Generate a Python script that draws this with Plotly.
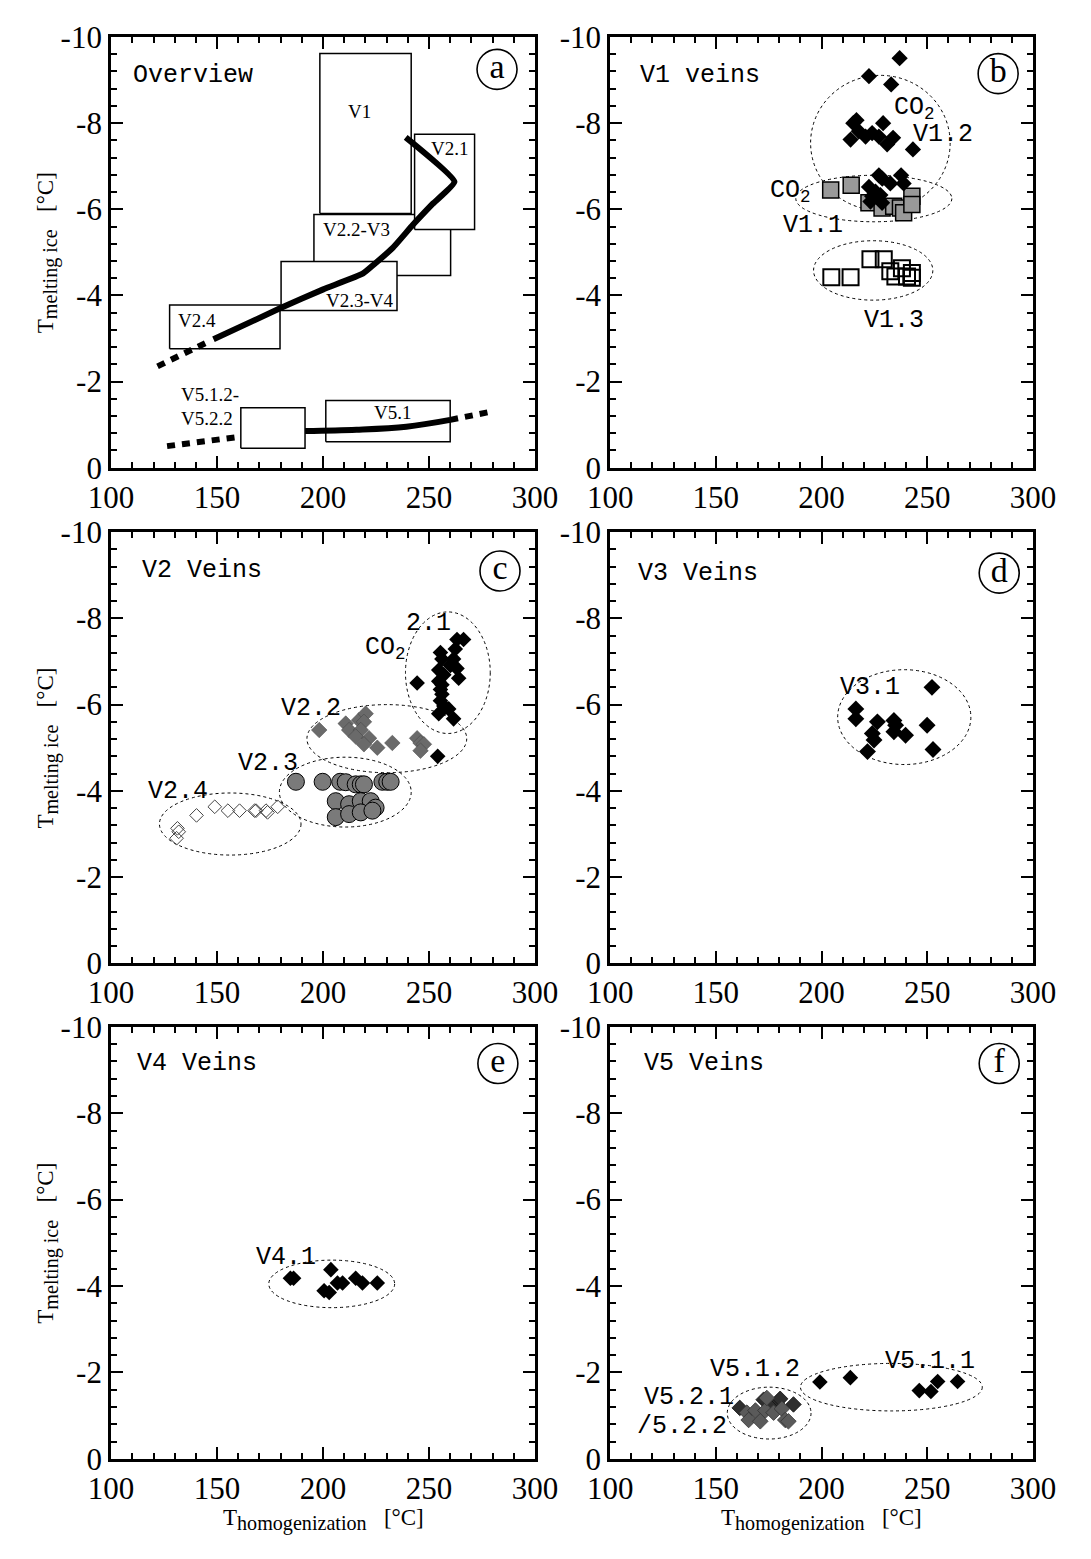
import plotly.graph_objects as go

# ---------------- data ----------------
# Panel a: overview boxes (Th range, Tm range)
box_names = ["V2.2-V3", "V1", "V2.1", "V2.3-V4", "V2.4", "V5.1", "V5.1.2-V5.2.2"]
box_x0 = [195.7, 198.5, 243.2, 180.2, 127.6, 201.3, 161.2]
box_x1 = [260.2, 241.6, 271.5, 234.9, 179.7, 260.0, 191.5]
box_y0 = [-4.46, -5.90, -5.53, -3.65, -2.76, -0.60, -0.45]
box_y1 = [-5.88, -9.62, -7.74, -4.79, -3.78, -1.56, -1.39]
box_label_text = ["V2.2-V3", "V1", "V2.1", "V2.3-V4", "V2.4", "V5.1", "V5.1.2-", "V5.2.2"]
box_label_x = [215.8, 217.3, 259.7, 217.3, 140.5, 233.0, 131.8, 131.8]
box_label_y = [-5.53, -8.27, -7.40, -3.87, -3.42, -1.28, -1.69, -1.13]

trend_up_x = [239.0, 262.0, 251.8, 242.4, 233.0, 223.6, 218.9, 200.1, 179.7, 148.3]
trend_up_y = [-7.67, -6.64, -6.13, -5.64, -5.11, -4.70, -4.51, -4.14, -3.70, -2.98]
trend_up_ext_x = [144.4, 120.1]
trend_up_ext_y = [-2.89, -2.31]
trend_low_ext1_x = [126.4, 161.2]
trend_low_ext1_y = [-0.50, -0.72]
trend_low_x = [191.5, 215.8, 239.3, 260.0]
trend_low_y = [-0.85, -0.88, -0.95, -1.11]
trend_low_ext2_x = [260.0, 279.3]
trend_low_ext2_y = [-1.11, -1.30]

# Panel b: V1 veins
v11_x = [204.3, 214.0, 222.4, 228.6, 234.1, 237.3, 238.8, 242.7, 242.7]
v11_y = [-6.45, -6.56, -6.15, -6.03, -6.07, -6.03, -5.92, -6.30, -6.11]
v12_x = [236.9, 222.4, 232.9, 216.5, 215.0, 229.1, 213.7, 217.6, 220.8, 223.9, 227.1, 231.0,
         233.8, 243.2, 227.1, 228.7, 237.6, 222.4, 225.5, 232.5, 238.8, 223.9, 227.8, 223.1, 228.6]
v12_y = [-9.51, -9.09, -8.90, -8.07, -8.00, -8.00, -7.62, -7.81, -7.69, -7.77, -7.69, -7.51,
         -7.66, -7.39, -6.79, -6.71, -6.79, -6.52, -6.41, -6.60, -6.60, -6.30, -6.33, -6.18, -6.15]
v13_x = [204.6, 213.7, 223.1, 229.4, 232.5, 238.0, 234.9, 240.4, 242.7, 242.7]
v13_y = [-4.42, -4.42, -4.84, -4.84, -4.56, -4.63, -4.44, -4.44, -4.52, -4.41]

# Panel c: V2 veins
v21_x = [244.4, 255.4, 256.1, 263.2, 266.3, 262.4, 261.6, 260.1, 254.6, 257.0, 263.2, 264.0,
         254.6, 256.1, 255.4, 256.1, 255.4, 257.0, 259.3, 254.6, 261.6, 254.1]
v21_y = [-6.50, -7.21, -7.06, -7.51, -7.51, -7.29, -7.06, -6.91, -6.80, -6.69, -6.84, -6.61,
         -6.54, -6.46, -6.35, -6.24, -6.09, -5.97, -5.90, -5.79, -5.67, -4.80]
v22_x = [198.2, 210.7, 212.3, 217.0, 220.1, 219.3, 217.8, 215.4, 221.7, 219.3, 225.6, 232.7,
         244.4, 246.0, 247.6, 246.0]
v22_y = [-5.41, -5.56, -5.41, -5.64, -5.79, -5.60, -5.41, -5.26, -5.22, -5.08, -5.00, -5.11,
         -5.22, -5.11, -5.08, -4.93]
v23_x = [187.2, 199.8, 208.1, 210.7, 215.4, 217.8, 219.3, 228.0, 230.3, 231.9,
         206.0, 212.3, 217.8, 222.5, 224.8, 206.0, 212.3, 217.8, 223.3]
v23_y = [-4.21, -4.21, -4.21, -4.20, -4.15, -4.15, -4.15, -4.21, -4.21, -4.21,
         -3.76, -3.69, -3.76, -3.76, -3.61, -3.39, -3.46, -3.50, -3.54]
v24_x = [131.3, 131.9, 130.9, 140.3, 148.9, 155.1, 160.6, 167.7, 168.4, 173.1, 173.8, 178.6]
v24_y = [-3.13, -3.05, -2.90, -3.43, -3.63, -3.54, -3.54, -3.54, -3.54, -3.54, -3.50, -3.63]

# Panel d: V3 veins
v31_x = [216.2, 216.2, 226.4, 224.0, 224.8, 221.7, 234.2, 235.0, 234.2, 239.7, 249.9, 252.2, 252.7]
v31_y = [-5.90, -5.67, -5.60, -5.33, -5.18, -4.91, -5.63, -5.52, -5.37, -5.29, -5.52, -6.40, -4.96]

# Panel e: V4 veins
v41_x = [184.6, 186.1, 203.7, 200.5, 202.9, 206.8, 209.2, 215.4, 218.6, 225.6]
v41_y = [-4.18, -4.18, -4.38, -3.89, -3.85, -4.07, -4.07, -4.18, -4.07, -4.07]

# Panel f: V5 veins
v511_x = [199.2, 213.6, 246.2, 251.7, 254.9, 264.3]
v511_y = [-1.78, -1.88, -1.58, -1.56, -1.79, -1.79]
v512_x = [161.3, 172.6, 178.8, 180.4, 186.7, 175.7]
v512_y = [-1.18, -1.37, -1.29, -1.39, -1.26, -1.20]
v52_x = [164.7, 165.5, 168.7, 171.0, 173.4, 177.3, 181.2, 182.8, 184.3, 174.1]
v52_y = [-1.07, -0.90, -1.12, -0.87, -1.12, -1.07, -1.16, -0.90, -0.87, -1.41]

# Group ellipses: panel index, centre x, centre y, half-width, half-height
ell_panel = [2, 2, 2, 3, 3, 3, 3, 4, 5, 6, 6]
ell_cx = [227.8, 224.7, 224.4, 258.9, 230.1, 210.5, 156.2, 239.1, 204.1, 233.0, 175.2]
ell_cy = [-7.54, -6.25, -4.58, -6.74, -5.21, -3.97, -3.23, -5.71, -4.05, -1.66, -1.06]
ell_rx = [33.0, 36.9, 28.2, 20.0, 37.7, 31.1, 33.4, 31.5, 29.7, 43.0, 19.8]
ell_ry = [1.57, 0.54, 0.69, 1.41, 0.79, 0.81, 0.72, 1.10, 0.55, 0.55, 0.60]

# Group labels: panel index, text, x, y
grp_panel = [2, 2, 2, 2, 2, 3, 3, 3, 3, 3, 4, 5, 6, 6, 6, 6]
grp_text = ["CO<sub>2</sub>", "V1.2", "CO<sub>2</sub>", "V1.1", "V1.3",
            "2.1", "CO<sub>2</sub>", "V2.2", "V2.3", "V2.4",
            "V3.1", "V4.1", "V5.1.1", "V5.1.2", "V5.2.1", "/5.2.2"]
grp_x = [244.0, 257.6, 185.5, 195.7, 234.1, 249.9, 229.5, 194.3, 173.9, 131.6,
         222.8, 182.5, 251.3, 168.7, 137.3, 134.2]
grp_y = [-8.35, -7.73, -6.41, -5.62, -3.42, -7.89, -7.29, -5.90, -4.63, -3.99,
         -6.40, -4.66, -2.25, -2.06, -1.41, -0.75]

panel_titles = ["Overview", "V1 veins", "V2 Veins", "V3 Veins", "V4 Veins", "V5 Veins"]
panel_title_x = [109.4, 113.3, 113.6, 112.1, 111.3, 115.2]
panel_title_y = [-9.1, -9.1, -9.1, -9.05, -9.15, -9.15]
panel_letters = ["a", "b", "c", "d", "e", "f"]
letter_x = [282.1, 283.5, 283.5, 284.0, 282.5, 284.0]
letter_y = [-9.25, -9.15, -9.1, -9.05, -9.15, -9.15]

x_ticks = [100, 150, 200, 250, 300]
y_ticks = [-10, -8, -6, -4, -2, 0]
y_ticktext = ["-10", "-8", "-6", "-4", "-2", "0"]

x_title = "T<sub><span style='font-size:125%'>homogenization</span></sub>   [°C]"
y_title = "T<sub><span style='font-size:125%'>melting ice</span></sub>   [°C]"

# ---------------- layout geometry ----------------
W, H = 1091, 1559
COLS = [(92, 534.5), (613, 1054.5)]
ROWS = [(20.5, 461), (527, 968), (1033, 1475)]
PANEL_POS = [(0, 0), (0, 1), (1, 0), (1, 1), (2, 0), (2, 1)]

SERIF = "Liberation Serif"
MONO = "Liberation Mono"

fig = go.Figure()


def ax(i):
    return ("x" if i == 1 else f"x{i}"), ("y" if i == 1 else f"y{i}")


def add(i, **kw):
    xr, yr = ax(i)
    fig.add_trace(go.Scatter(xaxis=xr, yaxis=yr, showlegend=False, hoverinfo="skip", **kw))


def box_trace(k):
    add(1, x=[box_x0[k], box_x1[k], box_x1[k], box_x0[k], box_x0[k]],
        y=[box_y0[k], box_y0[k], box_y1[k], box_y1[k], box_y0[k]],
        mode="lines", fill="toself", fillcolor="white", line=dict(color="black", width=1.5))


# ---- panel a ----
for k in [0, 1, 2, 3, 4, 5]:
    box_trace(k)
add(1, x=trend_up_x, y=trend_up_y, mode="lines", line=dict(color="black", width=6, shape="spline", smoothing=0.4))
add(1, x=trend_up_ext_x, y=trend_up_ext_y, mode="lines", line=dict(color="black", width=6, dash="8px,7px"))
add(1, x=trend_low_ext1_x, y=trend_low_ext1_y, mode="lines", line=dict(color="black", width=6, dash="8px,7px"))
add(1, x=trend_low_x, y=trend_low_y, mode="lines", line=dict(color="black", width=6, shape="spline"))
add(1, x=trend_low_ext2_x, y=trend_low_ext2_y, mode="lines", line=dict(color="black", width=6, dash="8px,7px"))
box_trace(6)

# ---- panel b ----
add(2, x=v13_x, y=v13_y, mode="markers",
    marker=dict(symbol="square-open", size=16, color="black", line=dict(width=2)))
add(2, x=v11_x, y=v11_y, mode="markers",
    marker=dict(symbol="square", size=16, color="#999999", line=dict(color="black", width=1.5)))
add(2, x=v12_x, y=v12_y, mode="markers",
    marker=dict(symbol="diamond", size=12.5, color="black", line=dict(width=0)))

# ---- panel c ----
add(3, x=v24_x, y=v24_y, mode="markers",
    marker=dict(symbol="diamond-open", size=10.5, color="#444444", line=dict(width=1)))
add(3, x=v23_x, y=v23_y, mode="markers",
    marker=dict(symbol="circle", size=17, color="#7a7a7a", line=dict(color="black", width=1)))
add(3, x=v22_x, y=v22_y, mode="markers",
    marker=dict(symbol="diamond", size=12, color="#6a6a6a", line=dict(color="#444444", width=0.5)))
add(3, x=v21_x, y=v21_y, mode="markers",
    marker=dict(symbol="diamond", size=12, color="black", line=dict(width=0)))

# ---- panel d ----
add(4, x=v31_x, y=v31_y, mode="markers",
    marker=dict(symbol="diamond", size=13, color="black", line=dict(width=0)))

# ---- panel e ----
add(5, x=v41_x, y=v41_y, mode="markers",
    marker=dict(symbol="diamond", size=12, color="black", line=dict(width=0)))

# ---- panel f ----
add(6, x=v511_x, y=v511_y, mode="markers",
    marker=dict(symbol="diamond", size=12, color="black", line=dict(width=0)))
add(6, x=v512_x, y=v512_y, mode="markers",
    marker=dict(symbol="diamond", size=12, color="#2e2e2e", line=dict(color="#111111", width=0.8)))
add(6, x=v52_x, y=v52_y, mode="markers",
    marker=dict(symbol="diamond", size=12, color="#5a5a5a", line=dict(color="#333333", width=0.8)))

# ---- circled panel letters ----
for i in range(6):
    add(i + 1, x=[letter_x[i]], y=[letter_y[i]], mode="markers+text",
        marker=dict(symbol="circle-open", size=40, color="black", line=dict(width=1.6)),
        text=[panel_letters[i]], textposition="middle center",
        textfont=dict(family=SERIF, size=34, color="black"))

shapes = []
annotations = []

for n in range(len(ell_panel)):
    xr, yr = ax(ell_panel[n])
    shapes.append(dict(type="circle", xref=xr, yref=yr, layer="below",
                       x0=ell_cx[n] - ell_rx[n], x1=ell_cx[n] + ell_rx[n],
                       y0=ell_cy[n] - ell_ry[n], y1=ell_cy[n] + ell_ry[n],
                       line=dict(color="black", width=1, dash="dot")))

for n in range(len(grp_text)):
    xr, yr = ax(grp_panel[n])
    annotations.append(dict(x=grp_x[n], y=grp_y[n], xref=xr, yref=yr, text=grp_text[n],
                            showarrow=False, xanchor="center", yanchor="middle",
                            font=dict(family=MONO, size=25, color="black")))

for n in range(len(box_label_text)):
    annotations.append(dict(x=box_label_x[n], y=box_label_y[n], xref="x", yref="y",
                            text=box_label_text[n], showarrow=False,
                            xanchor="left" if n >= 6 else "center", yanchor="middle",
                            font=dict(family=SERIF, size=19, color="black")))

for i in range(6):
    xr, yr = ax(i + 1)
    annotations.append(dict(x=panel_title_x[i], y=panel_title_y[i], xref=xr, yref=yr,
                            text=panel_titles[i], showarrow=False, xanchor="left", yanchor="middle",
                            font=dict(family=MONO, size=25, color="black")))

# axis titles
for c in range(2):
    cx = (COLS[c][0] + COLS[c][1]) / 2 / W
    annotations.append(dict(x=cx, y=1 - 1538 / H, xref="paper", yref="paper", text=x_title,
                            showarrow=False, xanchor="center", yanchor="middle",
                            font=dict(family=SERIF, size=23, color="black")))
for r in range(3):
    cy = 1 - (ROWS[r][0] + ROWS[r][1]) / 2 / H
    annotations.append(dict(x=26 / W, y=cy, xref="paper", yref="paper", text=y_title,
                            showarrow=False, textangle=-90, xanchor="center", yanchor="middle",
                            font=dict(family=SERIF, size=23, color="black")))

layout = dict(width=W, height=H, margin=dict(l=0, r=0, t=0, b=0),
              paper_bgcolor="white", plot_bgcolor="white",
              shapes=shapes, annotations=annotations, showlegend=False)

for i, (r, c) in enumerate(PANEL_POS):
    idx = i + 1
    xname = "xaxis" if idx == 1 else f"xaxis{idx}"
    yname = "yaxis" if idx == 1 else f"yaxis{idx}"
    common = dict(showline=True, linewidth=3, linecolor="black", mirror="allticks",
                  ticks="inside", ticklen=12, tickwidth=2, tickcolor="black",
                  showgrid=False, zeroline=False,
                  tickfont=dict(family=SERIF, size=31, color="black"))
    layout[xname] = dict(common, domain=[COLS[c][0] / W, COLS[c][1] / W],
                         anchor=ax(idx)[1], range=[100, 300],
                         tickmode="array", tickvals=x_ticks,
                         minor=dict(ticks="inside", ticklen=6, tickwidth=2, tickcolor="black",
                                    dtick=10, tick0=100, showgrid=False))
    layout[yname] = dict(common, domain=[1 - ROWS[r][1] / H, 1 - ROWS[r][0] / H],
                         anchor=ax(idx)[0], range=[0, -10],
                         tickmode="array", tickvals=y_ticks, ticktext=y_ticktext,
                         minor=dict(ticks="inside", ticklen=6, tickwidth=2, tickcolor="black",
                                    dtick=0.4, tick0=0, showgrid=False))

fig.update_layout(**layout)
fig.write_html("out.html")
